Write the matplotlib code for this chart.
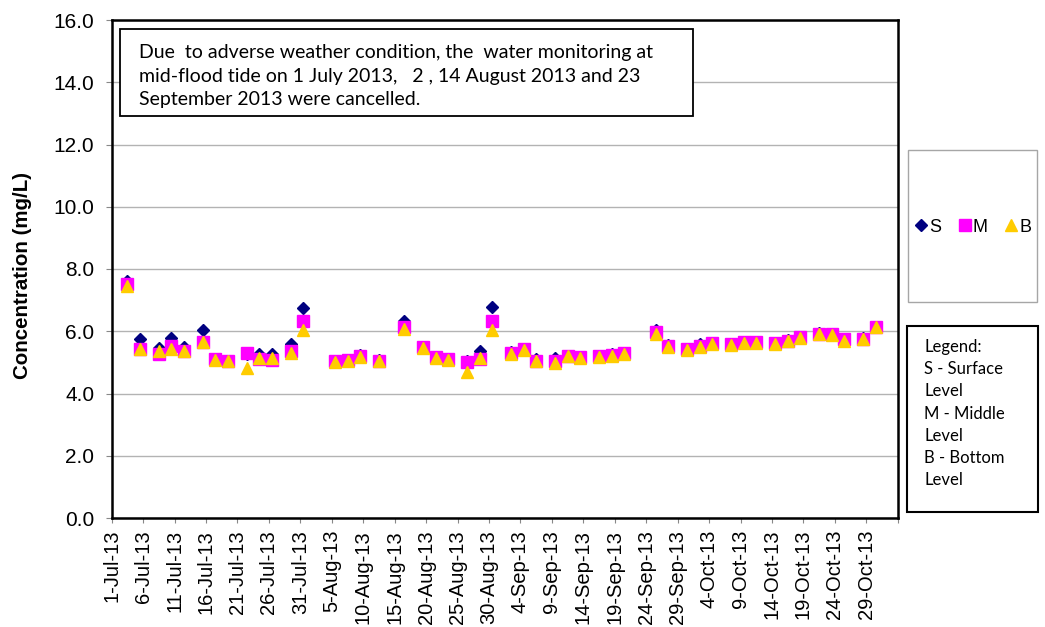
import matplotlib
matplotlib.use("Agg")
import matplotlib.pyplot as plt
import matplotlib.dates as mdates
from matplotlib.lines import Line2D
import pandas as pd

# sampling dates (mid-flood tide), values in mg/L
dates = ["2013-07-03", "2013-07-05", "2013-07-08", "2013-07-10", "2013-07-12",
         "2013-07-15", "2013-07-17", "2013-07-19", "2013-07-22", "2013-07-24",
         "2013-07-26", "2013-07-29", "2013-07-31", "2013-08-05", "2013-08-07",
         "2013-08-09", "2013-08-12", "2013-08-16", "2013-08-19", "2013-08-21",
         "2013-08-23", "2013-08-26", "2013-08-28", "2013-08-30", "2013-09-02",
         "2013-09-04", "2013-09-06", "2013-09-09", "2013-09-11", "2013-09-13",
         "2013-09-16", "2013-09-18", "2013-09-20", "2013-09-25", "2013-09-27",
         "2013-09-30", "2013-10-02", "2013-10-04", "2013-10-07", "2013-10-09",
         "2013-10-11", "2013-10-14", "2013-10-16", "2013-10-18", "2013-10-21",
         "2013-10-23", "2013-10-25", "2013-10-28", "2013-10-30"]

surface = [7.63, 5.75, 5.45, 5.78, 5.48, 6.03, 5.12, 5.05, 5.28, 5.27,
           5.27, 5.58, 6.75, 5.00, 5.05, 5.24, 5.09, 6.32, 5.50, 5.16,
           5.10, 5.05, 5.37, 6.79, 5.33, 5.43, 5.10, 5.13, 5.20, 5.15,
           5.18, 5.26, 5.30, 6.03, 5.55, 5.42, 5.58, 5.62, 5.60, 5.65,
           5.64, 5.62, 5.71, 5.80, 5.93, 5.92, 5.74, 5.77, 6.15]

middle = [7.52, 5.44, 5.28, 5.52, 5.35, 5.65, 5.12, 5.05, 5.29, 5.12,
          5.07, 5.35, 6.32, 5.03, 5.08, 5.22, 5.06, 6.15, 5.50, 5.16,
          5.12, 5.02, 5.10, 6.34, 5.30, 5.42, 5.04, 5.03, 5.22, 5.17,
          5.19, 5.24, 5.30, 5.96, 5.53, 5.42, 5.53, 5.62, 5.60, 5.65,
          5.64, 5.62, 5.70, 5.80, 5.92, 5.92, 5.74, 5.76, 6.15]

bottom = [7.45, 5.42, 5.35, 5.42, 5.38, 5.67, 5.08, 5.03, 4.83, 5.13,
          5.13, 5.30, 6.03, 5.00, 5.06, 5.18, 5.03, 6.07, 5.47, 5.13,
          5.08, 4.70, 5.13, 6.03, 5.26, 5.40, 5.03, 4.97, 5.20, 5.15,
          5.17, 5.22, 5.27, 5.90, 5.51, 5.41, 5.50, 5.60, 5.57, 5.63,
          5.62, 5.60, 5.68, 5.78, 5.90, 5.89, 5.70, 5.75, 6.13]

axis_start = "2013-07-01"
axis_days = 125

note = ("Due  to adverse weather condition, the  water monitoring at\n"
        "mid-flood tide on 1 July 2013,   2 , 14 August 2013 and 23\n"
        "September 2013 were cancelled.")
legend_note = "Legend:\nS - Surface\nLevel\nM - Middle\nLevel\nB - Bottom\nLevel"

navy = "#000080"
magenta = "#FF00FF"
gold = "#FFCC00"
text_font = "Lato"
W, H = 1045.0, 627.0

plt.rcParams["font.family"] = ["Liberation Sans", "DejaVu Sans"]

fig = plt.figure(figsize=(10.45, 6.27), dpi=100)
ax = fig.add_axes([111.7 / W, 1 - 518 / H, 786 / W, 498 / H])

x0 = mdates.date2num(pd.Timestamp(axis_start))
x = mdates.date2num(pd.to_datetime(dates)) + 0.5

ax.plot(x, surface, "D", color=navy, ms=6.2, mec=navy, ls="none", zorder=3)
ax.plot(x, middle, "s", color=magenta, ms=9, mec=magenta, ls="none", zorder=4)
ax.plot(x, bottom, "^", color=gold, ms=9.3, mec=gold, ls="none", zorder=5)

ax.set_xlim(x0, x0 + axis_days)
ax.set_ylim(0, 16)
ax.set_yticks([0, 2, 4, 6, 8, 10, 12, 14, 16])
ax.set_yticklabels(["%.1f" % v for v in ax.get_yticks()], fontsize=15)

ticks = [x0 + d for d in range(0, axis_days + 1, 5)]
labels = []
for t in ticks:
    d = mdates.num2date(t)
    labels.append("%d-%s" % (d.day, d.strftime("%b-%y")) if t < x0 + axis_days else "")
ax.set_xticks(ticks)
ax.set_xticklabels(labels, rotation=90, fontsize=14.5)

ax.grid(axis="y", color="#b3b3b3", lw=1)
ax.set_axisbelow(True)
for s in ax.spines.values():
    s.set_linewidth(1.8)
    s.set_color("black")
ax.tick_params(axis="y", length=4.5, width=0.8, color="#888888", pad=8)
ax.tick_params(axis="x", length=3.6, width=0.8, color="#888888", pad=5)

ax.set_ylabel("Concentration (mg/L)", fontsize=14.8, fontweight="bold")
ax.yaxis.set_label_coords(-0.101, 0.486)

# note about cancelled sampling
fig.patches.append(plt.Rectangle((120 / W, 1 - 116 / H), 573 / W, 87 / H,
                                 transform=fig.transFigure, fc="white",
                                 ec="black", lw=1.3, zorder=6))
fig.text(139 / W, 1 - 44 / H, note, va="top", ha="left", fontsize=14,
         family=text_font, linespacing=1.48, zorder=7)

# series legend
handles = [Line2D([], [], marker="D", color=navy, ls="none", ms=6.5),
           Line2D([], [], marker="s", color=magenta, ls="none", ms=8),
           Line2D([], [], marker="^", color=gold, ls="none", ms=8.5)]
fig.legend(handles, ["S", "M", "B"], loc="center",
           bbox_to_anchor=(0.9315, 1 - 227 / H), ncol=3, fontsize=13,
           handlelength=0.6, handletextpad=0.15, columnspacing=1.0,
           frameon=False)
fig.patches.append(plt.Rectangle((908 / W, 1 - 302 / H), 129 / W, 152 / H,
                                 transform=fig.transFigure, fill=False,
                                 ec="#a6a6a6", lw=1))

# level legend box
fig.patches.append(plt.Rectangle((907 / W, 1 - 512 / H), 131 / W, 186 / H,
                                 transform=fig.transFigure, fill=False,
                                 ec="black", lw=1.5))
fig.text(924 / W, 1 - 339 / H, legend_note, va="top", ha="left",
         fontsize=12, family=text_font, linespacing=1.48)

fig.savefig("out.png", dpi=100)
